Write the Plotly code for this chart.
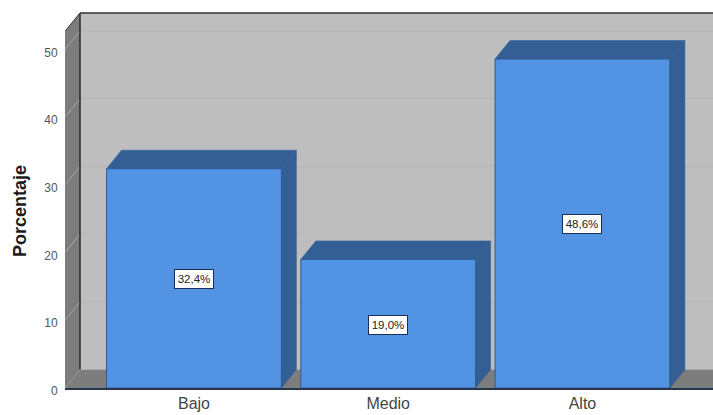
import plotly.graph_objects as go

categories = ["Bajo", "Medio", "Alto"]
values = [32.4, 19.0, 48.6]
labels = ["32,4%", "19,0%", "48,6%"]
y_ticks = [0, 10, 20, 30, 40, 50]

BAR_W = 0.9
DX, DY = 0.0772, 2.73
X_MIN, X_MAX = -0.664, 2.672
Y_TOP = 55.83
WALL_TOP = 55.4

FRONT = "#5294e3"
SIDE = "#345f95"
EDGE = "#2f5c92"
WALL = "#bebebe"
DARK_WALL = "#7c7c7c"
GRID = "#b6b6b6"
GRID_L = "#a8a8a8"

positions = list(range(len(categories)))
fig = go.Figure()

fig.add_trace(go.Bar(x=positions, y=values, width=BAR_W, marker=dict(color=FRONT, line=dict(color=EDGE, width=1)),
                     hoverinfo="skip", showlegend=False))

for p, v in zip(positions, values):
    l, r = p - BAR_W / 2, p + BAR_W / 2
    # top face
    fig.add_trace(go.Scatter(x=[l, l + DX, r + DX, r, l], y=[v, v + DY, v + DY, v, v], mode="lines", fill="toself",
                             fillcolor=SIDE, line=dict(color=EDGE, width=0.5), hoverinfo="skip", showlegend=False))
    # side face
    fig.add_trace(go.Scatter(x=[r, r + DX, r + DX, r, r], y=[0, DY, v + DY, v, 0], mode="lines", fill="toself",
                             fillcolor=SIDE, line=dict(color=EDGE, width=0.5), hoverinfo="skip", showlegend=False))

shapes = [
    # back wall
    dict(type="rect", x0=X_MIN + DX, x1=X_MAX, y0=DY, y1=WALL_TOP, fillcolor=WALL, line_width=0, layer="below"),
    # floor
    dict(type="path", path=f"M {X_MIN} 0 L {X_MIN + DX} {DY} L {X_MAX} {DY} L {X_MAX} 0 Z", fillcolor="#7d7d7d", line_width=0, layer="below"),
    # left wall
    dict(type="path", path=f"M {X_MIN} 0 L {X_MIN + DX} {DY} L {X_MIN + DX} {WALL_TOP} L {X_MIN} {WALL_TOP - DY} Z",
         fillcolor=DARK_WALL, line_width=0, layer="below"),
]
for t in y_ticks[1:]:
    shapes.append(dict(type="line", x0=X_MIN + DX, x1=X_MAX, y0=t + DY, y1=t + DY, line=dict(color=GRID, width=1), layer="below"))
    shapes.append(dict(type="line", x0=X_MIN, x1=X_MIN + DX, y0=t, y1=t + DY, line=dict(color=GRID_L, width=1), layer="below"))
shapes += [
    dict(type="line", x0=X_MIN + DX, x1=X_MIN + DX, y0=DY, y1=WALL_TOP, line=dict(color="#2a2a2a", width=1.5), layer="below"),
    dict(type="line", x0=X_MIN + DX, x1=X_MAX, y0=WALL_TOP, y1=WALL_TOP, line=dict(color="#333333", width=1.5), layer="below"),
    dict(type="line", x0=X_MIN, x1=X_MIN + DX, y0=WALL_TOP - DY, y1=WALL_TOP, line=dict(color="#333333", width=1), layer="below"),
]

annotations = [
    dict(x=p, y=v / 2, yshift=-1, text=t, showarrow=False, font=dict(family="Liberation Sans", size=11.5, color="#222222"),
         bgcolor="white", bordercolor="#16305a", borderwidth=1, borderpad=0, width=38, height=18)
    for p, v, t in zip(positions, values, labels)
]
annotations.append(dict(xref="paper", yref="paper", x=-0.0705, y=0.469, xanchor="center", yanchor="middle",
                        text="<b>Porcentaje</b>", textangle=-90, showarrow=False,
                        font=dict(family="Liberation Sans", size=18, color="#1a1a1a")))

fig.update_layout(
    width=713, height=415,
    margin=dict(l=65, r=0, t=10, b=26.5),
    paper_bgcolor="white", plot_bgcolor="white",
    showlegend=False,
    shapes=shapes, annotations=annotations,
    font=dict(family="Liberation Sans"),
    xaxis=dict(range=[X_MIN, X_MAX], tickmode="array", tickvals=positions, ticktext=categories, showgrid=False, zeroline=False,
               automargin=False, showline=True, linecolor="#26364e", linewidth=1.5, ticks="", ticklabelstandoff=0,
               tickfont=dict(size=16, color="#444444")),
    yaxis=dict(range=[0, Y_TOP], tickmode="array", tickvals=y_ticks, showgrid=False, zeroline=False, showline=False,
               automargin=False, ticks="outside", ticklen=4, tickcolor="white", ticklabelshift=3, tickfont=dict(size=12, color="#555555")),
)

fig.write_html("out.html", config=dict(displayModeBar=False), post_script="document.body.style.margin='0';")
